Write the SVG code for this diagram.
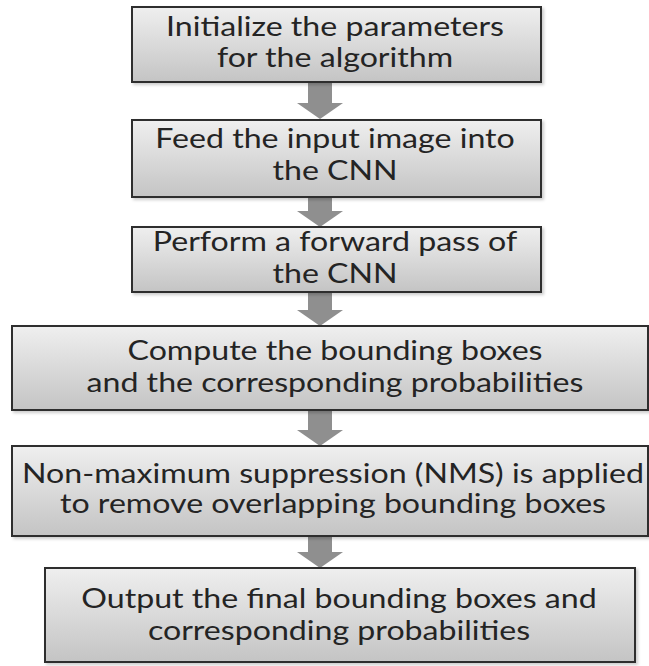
<svg xmlns="http://www.w3.org/2000/svg" width="649" height="666" viewBox="0 0 649 666">
  <defs>
    <linearGradient id="boxFill" x1="0" y1="0" x2="0" y2="1">
      <stop offset="0" stop-color="#efefef"/>
      <stop offset="1" stop-color="#c4c4c4"/>
    </linearGradient>
    <filter id="shadow" x="-5%" y="-10%" width="115%" height="130%">
      <feDropShadow dx="2" dy="2" stdDeviation="1.5" flood-color="#000" flood-opacity="0.2"/>
    </filter>
  </defs>
  <style>
    .box { fill: url(#boxFill); stroke: #2e2e2e; stroke-width: 2; filter: url(#shadow); }
    .label { font-family: Lato, "Open Sans", sans-serif; font-size: 27px; fill: #242424; text-anchor: middle; }
    .arrow { fill: #8f8f8f; }
  </style>
  <rect width="649" height="666" fill="#ffffff"/>

  <!-- block arrows linking consecutive steps -->
  <g id="connectors">
    <path class="arrow" d="M308 82 H332 V103 H343 L320 119 L297 103 H308 Z"/>
    <path class="arrow" d="M308 197 H332 V211 H343 L320 227 L297 211 H308 Z"/>
    <path class="arrow" d="M308 292 H332 V310 H343 L320 326 L297 310 H308 Z"/>
    <path class="arrow" d="M308 410 H332 V430 H343 L320 446 L297 430 H308 Z"/>
    <path class="arrow" d="M308 536 H332 V552 H343 L320 568 L297 552 H308 Z"/>
  </g>

  <g id="step1">
    <rect class="box" x="132" y="7" width="409" height="75"/>
    <text class="label" transform="translate(335 36) scale(1.19 1)">Initialize the parameters</text>
    <text class="label" transform="translate(335 67) scale(1.19 1)">for the algorithm</text>
  </g>
  <g id="step2">
    <rect class="box" x="132" y="120" width="409" height="77"/>
    <text class="label" transform="translate(335 148) scale(1.19 1)">Feed the input image into</text>
    <text class="label" transform="translate(335 180) scale(1.19 1)">the CNN</text>
  </g>
  <g id="step3">
    <rect class="box" x="132" y="227" width="409" height="65"/>
    <text class="label" transform="translate(335 251) scale(1.19 1)">Perform a forward pass of</text>
    <text class="label" transform="translate(335 283) scale(1.19 1)">the CNN</text>
  </g>
  <g id="step4">
    <rect class="box" x="12" y="326" width="636" height="84"/>
    <text class="label" transform="translate(335 360) scale(1.19 1)">Compute the bounding boxes</text>
    <text class="label" transform="translate(335 392) scale(1.19 1)">and the corresponding probabilities</text>
  </g>
  <g id="step5">
    <rect class="box" x="12" y="446" width="636" height="90"/>
    <text class="label" transform="translate(333 483) scale(1.19 1)">Non-maximum suppression (NMS) is applied</text>
    <text class="label" transform="translate(333 513) scale(1.19 1)">to remove overlapping bounding boxes</text>
  </g>
  <g id="step6">
    <rect class="box" x="45" y="568" width="590" height="94"/>
    <text class="label" transform="translate(339 608) scale(1.19 1)">Output the final bounding boxes and</text>
    <text class="label" transform="translate(339 640) scale(1.19 1)">corresponding probabilities</text>
  </g>
</svg>
